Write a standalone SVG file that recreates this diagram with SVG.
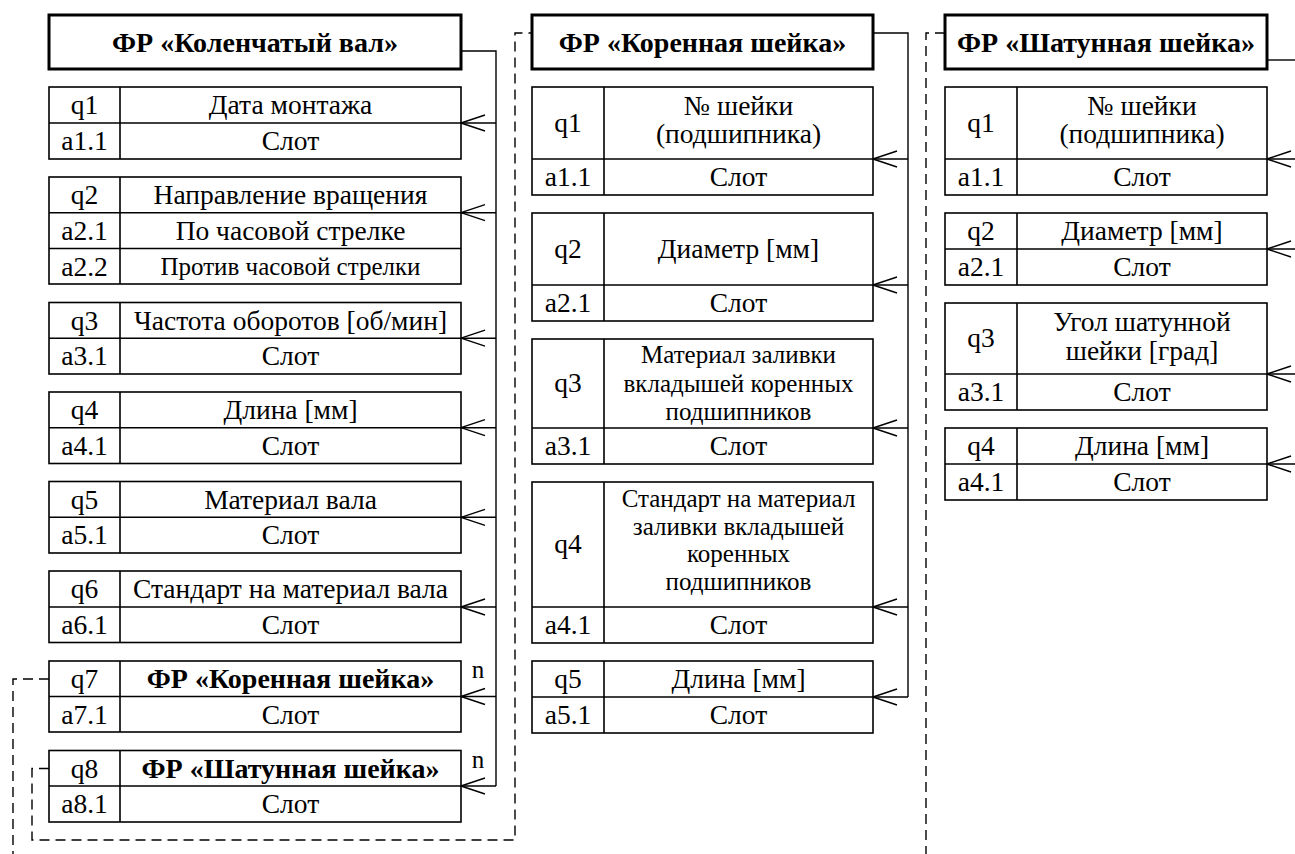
<svg xmlns="http://www.w3.org/2000/svg" width="1295" height="854" viewBox="0 0 1295 854">
  <style>
    text { font-family: "Liberation Serif", "Times New Roman", serif; font-size: 27.5px; fill: #000; text-anchor: middle; }
    .b { font-weight: bold; font-size: 28px; }
    .sm { font-size: 25px; }
    .hdr { fill: #fff; stroke: #000; stroke-width: 3; }
    .cell { fill: #fff; stroke: #000; stroke-width: 1.6; }
    .ln { fill: none; stroke: #000; stroke-width: 1.6; }
    .con { fill: none; stroke: #000; stroke-width: 1.4; }
    .dash { fill: none; stroke: #000; stroke-width: 1.4; stroke-dasharray: 10 6; }
  </style>
  <defs>
    <!-- crow's foot ending: tip at the table edge, arms open to the right -->
    <path id="crow" d="M0,0 L24,-8 M0,0 L24,8" fill="none" stroke="#000" stroke-width="1.4"/>
  </defs>

  <rect width="1295" height="854" fill="#fff"/>

  <!-- ===== Frame: crankshaft ===== -->
  <g id="fr-crankshaft">
    <rect class="hdr" x="49" y="15" width="412" height="54"/>
    <text class="b" x="255" y="52">ФР «Коленчатый вал»</text>
  </g>
  <g id="cs-q1">
    <rect class="cell" x="49" y="87" width="412" height="72"/>
    <path class="ln" d="M49,123 H461 M120,87 V159"/>
    <text x="84.5" y="114">q1</text><text x="290.5" y="114">Дата монтажа</text>
    <text x="84.5" y="150">a1.1</text><text x="290.5" y="150">Слот</text>
  </g>
  <g id="cs-q2">
    <rect class="cell" x="49" y="177" width="412" height="107"/>
    <path class="ln" d="M49,212.7 H461 M49,248.5 H461 M120,177 V284"/>
    <text x="84.5" y="204">q2</text><text x="290.5" y="204">Направление вращения</text>
    <text x="84.5" y="240">a2.1</text><text x="290.5" y="240">По часовой стрелке</text>
    <text x="84.5" y="275.5">a2.2</text><text class="sm" x="290.5" y="274.5">Против часовой стрелки</text>
  </g>
  <g id="cs-q3">
    <rect class="cell" x="49" y="302.5" width="412" height="71.5"/>
    <path class="ln" d="M49,338.2 H461 M120,302.5 V374"/>
    <text x="84.5" y="329.5">q3</text><text x="290.5" y="329.5">Частота оборотов [об/мин]</text>
    <text x="84.5" y="365">a3.1</text><text x="290.5" y="365">Слот</text>
  </g>
  <g id="cs-q4">
    <rect class="cell" x="49" y="392" width="412" height="71.5"/>
    <path class="ln" d="M49,427.7 H461 M120,392 V463.5"/>
    <text x="84.5" y="419">q4</text><text x="290.5" y="419">Длина [мм]</text>
    <text x="84.5" y="454.5">a4.1</text><text x="290.5" y="454.5">Слот</text>
  </g>
  <g id="cs-q5">
    <rect class="cell" x="49" y="481.5" width="412" height="71.5"/>
    <path class="ln" d="M49,517.3 H461 M120,481.5 V553"/>
    <text x="84.5" y="508.5">q5</text><text x="290.5" y="508.5">Материал вала</text>
    <text x="84.5" y="544">a5.1</text><text x="290.5" y="544">Слот</text>
  </g>
  <g id="cs-q6">
    <rect class="cell" x="49" y="571" width="412" height="71.5"/>
    <path class="ln" d="M49,607 H461 M120,571 V642.5"/>
    <text x="84.5" y="598">q6</text><text x="290.5" y="598">Стандарт на материал вала</text>
    <text x="84.5" y="634">a6.1</text><text x="290.5" y="634">Слот</text>
  </g>
  <g id="cs-q7">
    <rect class="cell" x="49" y="661" width="412" height="71"/>
    <path class="ln" d="M49,696.5 H461 M120,661 V732"/>
    <text x="84.5" y="688">q7</text><text class="b" x="290.5" y="688">ФР «Коренная шейка»</text>
    <text x="84.5" y="723.5">a7.1</text><text x="290.5" y="723.5">Слот</text>
  </g>
  <g id="cs-q8">
    <rect class="cell" x="49" y="750.5" width="412" height="71.5"/>
    <path class="ln" d="M49,786 H461 M120,750.5 V822"/>
    <text x="84.5" y="777.5">q8</text><text class="b" x="290.5" y="777.5">ФР «Шатунная шейка»</text>
    <text x="84.5" y="813">a8.1</text><text x="290.5" y="813">Слот</text>
  </g>

  <!-- ===== Frame: main journal ===== -->
  <g id="fr-main-journal">
    <rect class="hdr" x="532" y="15" width="341" height="54"/>
    <text class="b" x="702.5" y="52">ФР «Коренная шейка»</text>
  </g>
  <g id="mj-q1">
    <rect class="cell" x="532" y="87" width="341" height="108"/>
    <path class="ln" d="M532,159 H873 M604,87 V195"/>
    <text x="568" y="132">q1</text>
    <text x="738.5" y="115">№ шейки</text><text x="738.5" y="143">(подшипника)</text>
    <text x="568" y="186">a1.1</text><text x="738.5" y="186">Слот</text>
  </g>
  <g id="mj-q2">
    <rect class="cell" x="532" y="213" width="341" height="108"/>
    <path class="ln" d="M532,285 H873 M604,213 V321"/>
    <text x="568" y="258">q2</text><text x="738.5" y="258">Диаметр [мм]</text>
    <text x="568" y="312">a2.1</text><text x="738.5" y="312">Слот</text>
  </g>
  <g id="mj-q3">
    <rect class="cell" x="532" y="339" width="341" height="125"/>
    <path class="ln" d="M532,428 H873 M604,339 V464"/>
    <text x="568" y="392">q3</text>
    <text class="sm" x="738.5" y="363">Материал заливки</text>
    <text class="sm" x="738.5" y="391.5">вкладышей коренных</text>
    <text class="sm" x="738.5" y="420">подшипников</text>
    <text x="568" y="455">a3.1</text><text x="738.5" y="455">Слот</text>
  </g>
  <g id="mj-q4">
    <rect class="cell" x="532" y="482" width="341" height="161"/>
    <path class="ln" d="M532,607 H873 M604,482 V643"/>
    <text x="568" y="553">q4</text>
    <text class="sm" x="738.5" y="506.5">Стандарт на материал</text>
    <text class="sm" x="738.5" y="534.5">заливки вкладышей</text>
    <text class="sm" x="738.5" y="562">коренных</text>
    <text class="sm" x="738.5" y="590">подшипников</text>
    <text x="568" y="634">a4.1</text><text x="738.5" y="634">Слот</text>
  </g>
  <g id="mj-q5">
    <rect class="cell" x="532" y="661" width="341" height="72"/>
    <path class="ln" d="M532,697 H873 M604,661 V733"/>
    <text x="568" y="688">q5</text><text x="738.5" y="688">Длина [мм]</text>
    <text x="568" y="724">a5.1</text><text x="738.5" y="724">Слот</text>
  </g>

  <!-- ===== Frame: crankpin ===== -->
  <g id="fr-crankpin">
    <rect class="hdr" x="945" y="15" width="322" height="54"/>
    <text class="b" x="1106" y="52">ФР «Шатунная шейка»</text>
  </g>
  <g id="cp-q1">
    <rect class="cell" x="945" y="87" width="322" height="108"/>
    <path class="ln" d="M945,159 H1267 M1017,87 V195"/>
    <text x="981" y="132">q1</text>
    <text x="1142" y="115">№ шейки</text><text x="1142" y="143">(подшипника)</text>
    <text x="981" y="186">a1.1</text><text x="1142" y="186">Слот</text>
  </g>
  <g id="cp-q2">
    <rect class="cell" x="945" y="213" width="322" height="72"/>
    <path class="ln" d="M945,249 H1267 M1017,213 V285"/>
    <text x="981" y="240">q2</text><text x="1142" y="240">Диаметр [мм]</text>
    <text x="981" y="276">a2.1</text><text x="1142" y="276">Слот</text>
  </g>
  <g id="cp-q3">
    <rect class="cell" x="945" y="303" width="322" height="107"/>
    <path class="ln" d="M945,374 H1267 M1017,303 V410"/>
    <text x="981" y="347">q3</text>
    <text x="1142" y="331">Угол шатунной</text><text x="1142" y="360">шейки [град]</text>
    <text x="981" y="401">a3.1</text><text x="1142" y="401">Слот</text>
  </g>
  <g id="cp-q4">
    <rect class="cell" x="945" y="428" width="322" height="72"/>
    <path class="ln" d="M945,464 H1267 M1017,428 V500"/>
    <text x="981" y="455">q4</text><text x="1142" y="455">Длина [мм]</text>
    <text x="981" y="491">a4.1</text><text x="1142" y="491">Слот</text>
  </g>

  <!-- ===== Connectors ===== -->
  <g id="connectors">
    <!-- crankshaft frame to its slots -->
    <path class="con" d="M461,51 H496 V786"/>
    <path class="con" d="M461,123 H496 M461,212.7 H496 M461,338.2 H496 M461,427.7 H496 M461,517.3 H496 M461,607 H496 M461,696.5 H496 M461,786 H496"/>
    <use href="#crow" x="461" y="123"/>
    <use href="#crow" x="461" y="212.7"/>
    <use href="#crow" x="461" y="338.2"/>
    <use href="#crow" x="461" y="427.7"/>
    <use href="#crow" x="461" y="517.3"/>
    <use href="#crow" x="461" y="607"/>
    <use href="#crow" x="461" y="696.5"/>
    <use href="#crow" x="461" y="786"/>
    <text class="sm" x="478" y="678">n</text>
    <text class="sm" x="478" y="768">n</text>

    <!-- main journal frame to its slots -->
    <path class="con" d="M873,33 H908 V697"/>
    <path class="con" d="M873,159 H908 M873,285 H908 M873,428 H908 M873,607 H908 M873,697 H908"/>
    <use href="#crow" x="873" y="159"/>
    <use href="#crow" x="873" y="285"/>
    <use href="#crow" x="873" y="428"/>
    <use href="#crow" x="873" y="607"/>
    <use href="#crow" x="873" y="697"/>

    <!-- crankpin frame to its slots -->
    <path class="con" d="M1267,60 H1295"/>
    <path class="con" d="M1267,159 H1295 M1267,249 H1295 M1267,374 H1295 M1267,464 H1295"/>
    <use href="#crow" x="1267" y="159"/>
    <use href="#crow" x="1267" y="249"/>
    <use href="#crow" x="1267" y="374"/>
    <use href="#crow" x="1267" y="464"/>

    <!-- frame references (dashed) -->
    <path class="dash" d="M49,768.5 H32 V840 H515 V33 H532"/>
    <path class="dash" d="M49,679 H13 V854"/>
    <path class="dash" d="M945,33 H926 V854"/>
  </g>
</svg>
